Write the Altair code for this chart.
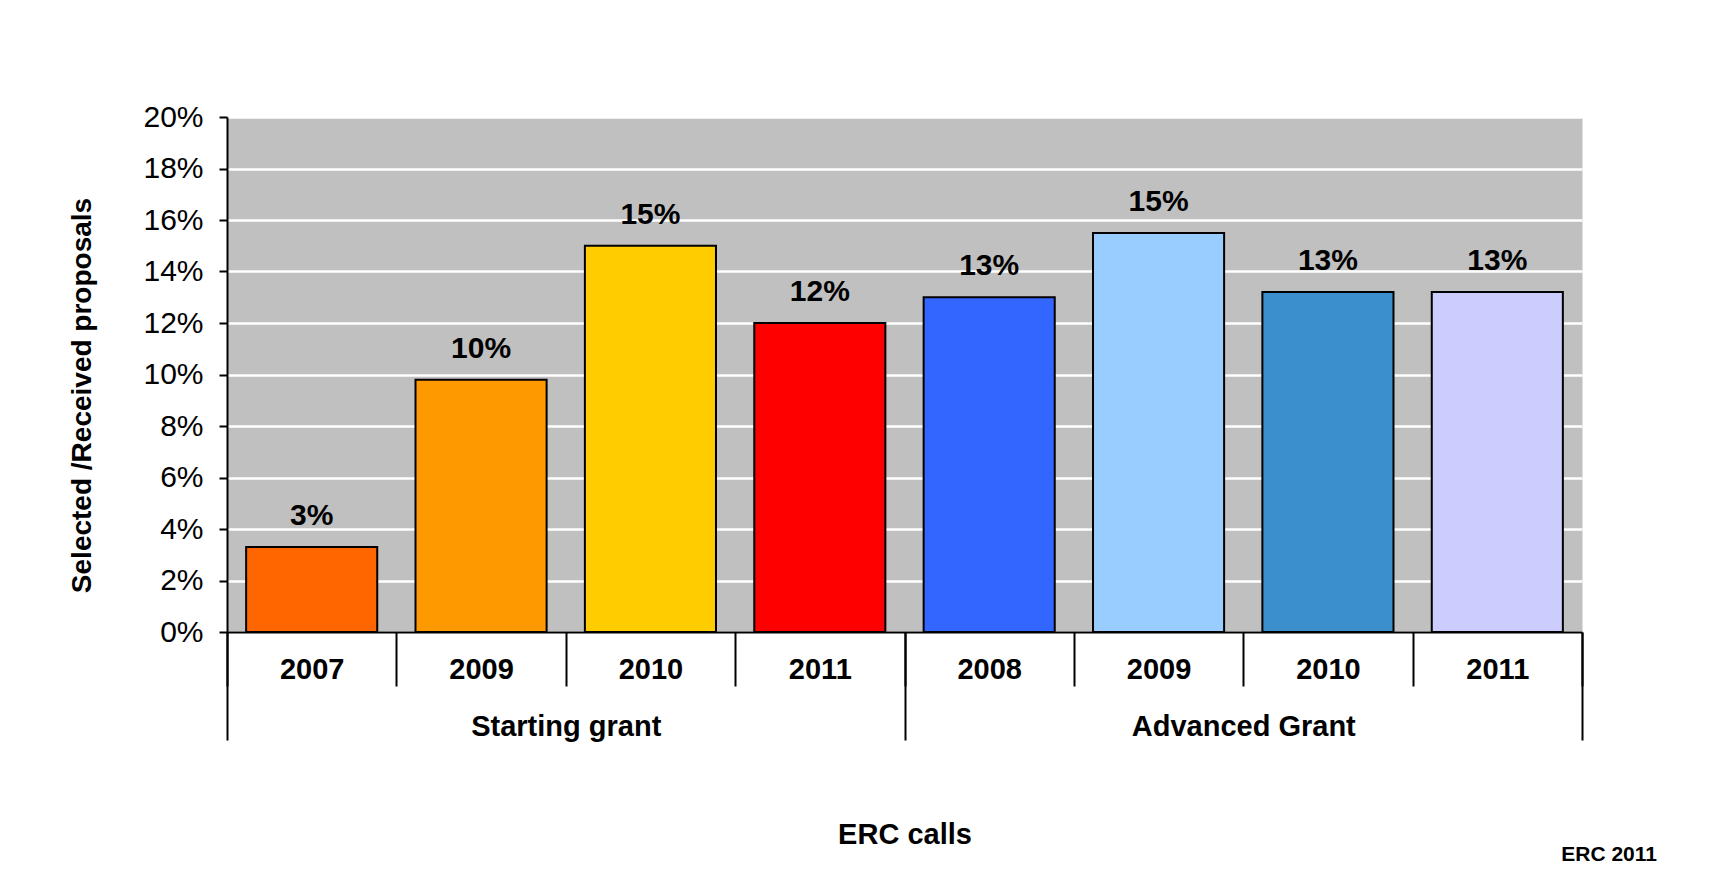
import altair as alt
import pandas as pd

# ---- data ----
groups = ["Starting grant"] * 4 + ["Advanced Grant"] * 4
years = ["2007", "2009", "2010", "2011", "2008", "2009", "2010", "2011"]
values = [0.033, 0.098, 0.150, 0.120, 0.130, 0.155, 0.132, 0.132]
labels = ["3%", "10%", "15%", "12%", "13%", "15%", "13%", "13%"]
colors = ["#FF6600", "#FF9900", "#FFCC00", "#FF0000",
          "#3366FF", "#99CCFF", "#3A8FCC", "#CCCCFF"]
group_order = ["Starting grant", "Advanced Grant"]
y_ticks = [0, 0.02, 0.04, 0.06, 0.08, 0.10, 0.12, 0.14, 0.16, 0.18, 0.20]

keys = [f"{g}|{y}" for g, y in zip(groups, years)]
df = pd.DataFrame({"key": keys, "group": groups, "year": years,
                   "value": values, "label": labels})

FONT = "Liberation Sans"

x_year = alt.X(
    "key:N", sort=keys,
    scale=alt.Scale(type="band", domain=keys, paddingInner=0, paddingOuter=0),
    axis=alt.Axis(
        title=None, orient="bottom", labelAngle=0,
        labelExpr="split(datum.label, '|')[1]",
        labelFont=FONT, labelFontSize=29, labelFontWeight="bold",
        labelColor="black", labelPadding=-31, labelLimit=0,
        tickBand="extent", tickSize=54, tickWidth=2, tickColor="black",
        domainColor="black", domainWidth=2, grid=False,
    ),
)

y_val = alt.Y(
    "value:Q",
    scale=alt.Scale(domain=[0, 0.2], nice=False),
    axis=alt.Axis(
        values=y_ticks, format=".0%",
        title="Selected /Received proposals",
        titleFont=FONT, titleFontSize=28, titleFontWeight="bold",
        titleColor="black", titleX=-145, titleY=278, titleAngle=270,
        titleAlign="center", titleBaseline="middle",
        labelFont=FONT, labelFontSize=30, labelColor="black",
        labelPadding=16, tickSize=8, tickWidth=2, tickColor="black",
        domainColor="black", domainWidth=2,
        grid=True, gridColor="white", gridWidth=2.5,
    ),
)

bars = alt.Chart().mark_bar(
    stroke="black", strokeWidth=2, width=alt.RelativeBandSize(0.774)
).encode(
    x=x_year,
    y=y_val,
    color=alt.Color("key:N", scale=alt.Scale(domain=keys, range=colors),
                    legend=None),
)

text = alt.Chart().mark_text(
    font=FONT, fontSize=30, fontWeight="bold", color="black",
    baseline="alphabetic", dy=-22,
).encode(
    x=x_year,
    y=y_val,
    text="label:N",
)

grp = alt.Chart().mark_point(opacity=0).encode(
    x=alt.X(
        "group:N",
        scale=alt.Scale(type="band", domain=group_order,
                        paddingInner=0, paddingOuter=0),
        axis=alt.Axis(
            orient="bottom", labelAngle=0,
            labelFont=FONT, labelFontSize=29, labelFontWeight="bold",
            labelColor="black", labelPadding=-28, labelLimit=0,
            tickBand="extent", tickSize=108, tickWidth=2, tickColor="black",
            domain=False, grid=False,
            title="ERC calls", titleFont=FONT, titleFontSize=29,
            titleFontWeight="bold", titleColor="black",
            titleY=211, titleBaseline="alphabetic",
        ),
    ),
)

chart = alt.layer(alt.layer(bars, text), grp, data=df).resolve_scale(
    x="independent"
).properties(
    width=1355, height=515,
    autosize=alt.AutoSizeParams(type="none"),
    padding={"left": 219, "top": 109, "right": 129, "bottom": 240},
    background="white",
    title=alt.TitleParams(
        "ERC 2011", orient="bottom", anchor="end", dx=74, offset=-5,
        font=FONT, fontSize=21, fontWeight="bold", color="black",
    ),
).configure_view(fill="#C0C0C0", stroke="transparent")

chart.save("out.html", embed_options={"renderer": "svg", "actions": False})
